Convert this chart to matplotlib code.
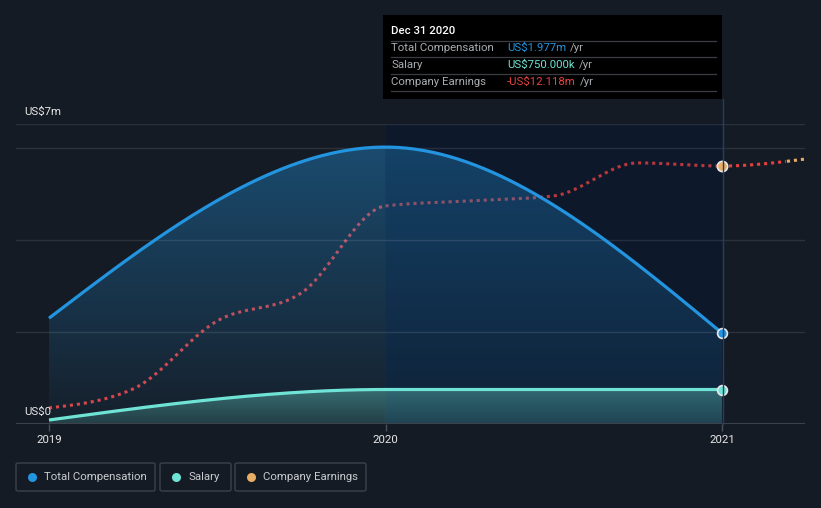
import numpy as np
import matplotlib
matplotlib.use("Agg")
import matplotlib.pyplot as plt
from matplotlib.patches import FancyBboxPatch, Rectangle
from matplotlib.colors import to_rgb

plt.rcParams['font.family'] = ['Roboto', 'DejaVu Sans']

# ---------------- data ----------------
comp_years = [2019.0, 2020.0, 2021.0]
total_comp = [2.30, 6.02, 1.977]          # US$m
salary = [0.087, 0.75, 0.75]              # US$m

earn_years = [2019.0, 2019.25, 2019.5, 2019.75, 2020.0, 2020.25, 2020.5,
              2020.75, 2021.0, 2021.25]
earnings = [-60.5, -56.7, -43.1, -37.5, -20.1, -19.1, -18.1, -11.5,
            -12.118, -10.7]                # US$m

year_ticks = [2019, 2020, 2021]
tooltip_title = "Dec 31 2020"
tooltip_rows = [("Total Compensation", "US$1.977m"),
                ("Salary", "US$750.000k"),
                ("Company Earnings", "-US$12.118m")]
legend_labels = ["Total Compensation", "Salary", "Company Earnings"]

# ---------------- style ----------------
BG = '#151b24'
BAND = '#0d182a'
BLUE = '#2394df'
TEAL = '#6fe3d5'
RED = '#e64141'
ORANGE = '#e8ad65'
W, H = 821, 508


def monotone(xs, ys, n=80):
    xs = np.asarray(xs, float); ys = np.asarray(ys, float)
    h = np.diff(xs); s = np.diff(ys) / h
    m = len(xs)
    t = np.zeros(m)
    for i in range(1, m - 1):
        h0, h1, s0, s1 = h[i - 1], h[i], s[i - 1], s[i]
        p = (s0 * h1 + s1 * h0) / (h0 + h1)
        t[i] = (np.sign(s0) + np.sign(s1)) * min(abs(s0), abs(s1), 0.5 * abs(p))
    t[0] = (3 * s[0] - t[1]) / 2
    t[-1] = (3 * s[-1] - t[-2]) / 2
    X, Y = [], []
    for i in range(m - 1):
        u = np.linspace(0, 1, n, endpoint=(i == m - 2))
        h00 = 2 * u**3 - 3 * u**2 + 1
        h10 = u**3 - 2 * u**2 + u
        h01 = -2 * u**3 + 3 * u**2
        h11 = u**3 - u**2
        X.append(xs[i] + u * h[i])
        Y.append(h00 * ys[i] + h10 * h[i] * t[i] + h01 * ys[i + 1] + h11 * h[i] * t[i + 1])
    return np.concatenate(X), np.concatenate(Y)


fig = plt.figure(figsize=(W / 100, H / 100), dpi=100, facecolor=BG)

def fx(px): return px / W
def fy(py): return 1 - py / H

ax = fig.add_axes([fx(16), fy(424), (805 - 16) / W, (424 - 124) / H])
ax.set_facecolor(BG)
x0 = 2019 - 33 / 336.5
x1 = 2019 + (805 - 49) / 336.5
ymax = 300 / 46
ax.set_xlim(x0, x1)
ax.set_ylim(0, ymax)
ax.set_autoscale_on(False)
for sp in ax.spines.values():
    sp.set_visible(False)

# hidden secondary scale for earnings
ax2 = ax.twinx()
ax2.set_ylim(-12.118 - (424 - 166) / 5, -12.118 + (166 - 124) / 5)
ax2.set_xlim(x0, x1)
ax2.set_axis_off()

# highlighted band base
ax.add_patch(Rectangle((2020, 0), 1, ymax, facecolor=BAND, lw=0, zorder=0.5))

# grid lines
for g in [2, 4, 6, ymax]:
    ax.axhline(g, color='white', alpha=0.1, lw=1, zorder=4.5)
ax.axhline(0, color='#3c424b', lw=1.5, zorder=6)

cx, cy = monotone(comp_years, total_comp)
sx, sy = monotone(comp_years, salary)
ex, ey = monotone(earn_years, earnings)

# earnings (beneath fills)
segs = [(ex <= 2020.0, RED, 1.0), ((ex >= 2020.0) & (ex <= 2021.0), RED, 0.8),
        ((ex >= 2021.0) & (ex <= 2021.19), RED, 1.0), (ex >= 2021.19, ORANGE, 1.0)]
for m, col, a in segs:
    ax.plot(ex[m], ey[m], color=col, alpha=a, lw=2.2, ls=(0, (1, 1.3)),
            dash_capstyle='butt', zorder=2, transform=ax2.transData)


def gradient_fill(xv, yv, color, prof_left, prof_band, zorder, vtop=6.02, ncol=400):
    poly = ax.fill_between(xv, 0, yv, color='none', lw=0, zorder=zorder)
    xs_img = np.linspace(xv.min(), xv.max(), ncol)
    img = np.zeros((256, ncol, 4))
    img[:, :, :3] = to_rgb(color)
    aL = np.linspace(prof_left[0], prof_left[1], 256)[:, None]
    aB = np.linspace(prof_band[0], prof_band[1], 256)[:, None]
    img[:, :, 3] = np.where(xs_img[None, :] < 2020.0, aL, aB)
    im = ax.imshow(img, aspect='auto', extent=[xv.min(), xv.max(), 0, vtop],
                   origin='upper', zorder=zorder, interpolation='nearest')
    im.set_clip_path(poly.get_paths()[0], transform=ax.transData)

gradient_fill(cx, cy, BLUE, (0.40, 0.04), (0.34, 0.07), 3)
gradient_fill(sx, sy, TEAL, (0.38, 0.16), (0.36, 0.18), 4, vtop=0.75)

ax.set_xlim(x0, x1)
ax.set_ylim(0, ymax)

# lines & markers
ax.plot(cx, cy, color=BLUE, lw=2.3, solid_capstyle='butt', zorder=5)
ax.plot(sx, sy, color=TEAL, lw=2.3, solid_capstyle='butt', zorder=5)
ax.scatter([comp_years[-1]], [total_comp[-1]], s=50, color=BLUE,
           edgecolor='#e8e8e8', linewidth=1.2, zorder=10, clip_on=False)
ax.scatter([comp_years[-1]], [salary[-1]], s=50, color=TEAL,
           edgecolor='#e8e8e8', linewidth=1.2, zorder=10, clip_on=False)
ax.scatter([earn_years[8]], [earnings[8]], s=55, color=ORANGE,
           edgecolor='#e8e8e8', linewidth=1.2, zorder=10, transform=ax2.transData)

# x ticks
ax.set_xticks(year_ticks)
ax.set_xticklabels([str(y) for y in year_ticks])
ax.tick_params(axis='x', colors='#4a5059', length=5, width=1, pad=3,
               labelcolor='#e8e8e8', labelsize=8.2)
ax.set_yticks([])

# vertical hover line
fig.add_artist(plt.Line2D([fx(722.5), fx(722.5)], [fy(99), fy(424)],
                          color='#1d3f6e', lw=1, zorder=7))

# y labels
fig.text(fx(24), fy(112), "US$7m", color='#e8e8e8', fontsize=8.2, va='center', ha='left')
fig.text(fx(24), fy(412), "US$0", color='#e8e8e8', fontsize=8.2, va='center', ha='left')

# tooltip
fig.add_artist(Rectangle((fx(383), fy(99)), (722 - 383) / W, (99 - 15) / H,
                         transform=fig.transFigure, facecolor='#000000', lw=0, zorder=20))
fig.text(fx(391), fy(31), tooltip_title, color='#ffffff', fontsize=8.2,
         fontweight='medium', va='center', ha='left', zorder=21)
for yy in [41, 57, 74, 91]:
    fig.add_artist(plt.Line2D([fx(391), fx(716)], [fy(yy), fy(yy)],
                              color='#3a3e44', lw=0.9, zorder=21))
val_colors = [BLUE, TEAL, RED]
renderer = fig.canvas.get_renderer()
for i, (lab, val) in enumerate(tooltip_rows):
    yy = 48 + i * 17
    fig.text(fx(391), fy(yy), lab, color='#a8acb0', fontsize=8.2, va='center', ha='left', zorder=22)
    t = fig.text(fx(507), fy(yy), val, color=val_colors[i], fontsize=8.2, va='center', ha='left', zorder=22)
    bb = t.get_window_extent(renderer)
    fig.text(fx(bb.x1 + 4), fy(yy), "/yr", color='#a8acb0', fontsize=8.2, va='center', ha='left', zorder=22)

# legend
boxes = [(16, 155), (160, 231), (235, 366)]
dot_colors = [BLUE, TEAL, ORANGE]
for (bx0, bx1), lab, col in zip(boxes, legend_labels, dot_colors):
    fig.add_artist(FancyBboxPatch((fx(bx0), fy(491)), (bx1 - bx0) / W, (491 - 463) / H,
                                  boxstyle="round,pad=0,rounding_size=0.003",
                                  transform=fig.transFigure, facecolor='none',
                                  edgecolor='#3c424b', lw=1))
    fig.add_artist(plt.Line2D([fx(bx0 + 16)], [fy(477)], marker='o', markersize=6.5,
                              color=col, markeredgewidth=0, linestyle='none'))
    fig.text(fx(bx0 + 28), fy(477), lab, color='#c8ccd0', fontsize=8.2, va='center', ha='left')

fig.savefig("out.png", dpi=100, facecolor=BG)
